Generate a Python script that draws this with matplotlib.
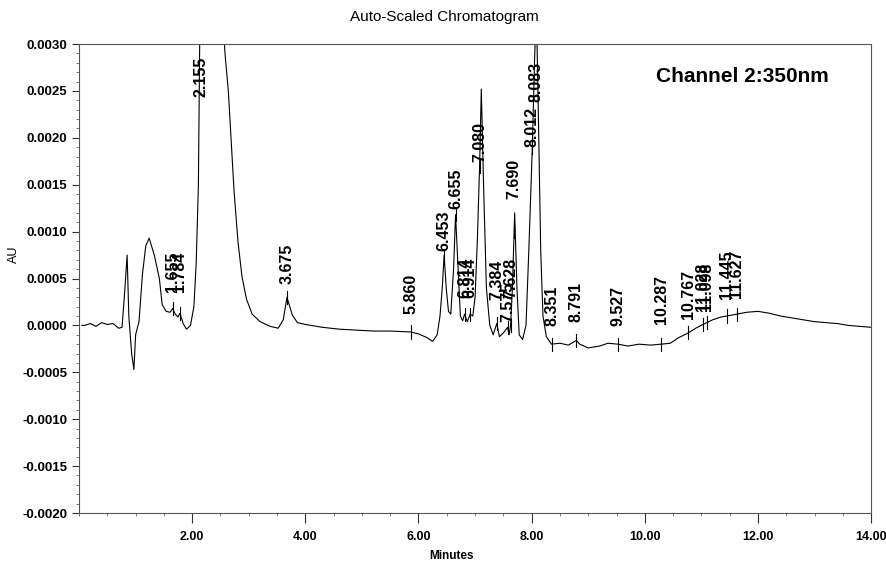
import matplotlib
matplotlib.use("Agg")
import matplotlib.pyplot as plt
import numpy as np
from matplotlib.ticker import MultipleLocator, FuncFormatter

# ---- data ----
time_min = [0.05, 0.10, 0.20, 0.30, 0.40, 0.50, 0.60, 0.70, 0.76, 0.80, 0.85, 0.88,
            0.93, 0.97, 1.00, 1.06, 1.12, 1.18, 1.24, 1.33, 1.42, 1.47, 1.54, 1.61,
            1.655, 1.70, 1.75, 1.784, 1.84, 1.90, 1.97, 2.03, 2.07, 2.11, 2.155, 2.30,
            2.45, 2.55, 2.58, 2.64, 2.69, 2.74, 2.81, 2.88, 2.96, 3.06, 3.20, 3.38,
            3.52, 3.61, 3.675, 3.77, 3.86, 4.00, 4.30, 4.60, 4.90, 5.20, 5.50, 5.86,
            6.00, 6.15, 6.25, 6.33, 6.38, 6.42, 6.453, 6.49, 6.53, 6.57, 6.62, 6.655,
            6.70, 6.74, 6.78, 6.814, 6.86, 6.914, 6.96, 7.00, 7.04, 7.08, 7.11, 7.15,
            7.20, 7.26, 7.32, 7.384, 7.43, 7.50, 7.575, 7.60, 7.628, 7.66, 7.70, 7.74,
            7.78, 7.84, 7.90, 7.95, 8.00, 8.012, 8.05, 8.083, 8.12, 8.16, 8.20, 8.26,
            8.351, 8.50, 8.65, 8.791, 8.85, 9.00, 9.20, 9.35, 9.527, 9.70, 9.90, 10.10,
            10.287, 10.45, 10.60, 10.767, 10.90, 11.028, 11.098, 11.20, 11.35, 11.445,
            11.627, 11.80, 12.00, 12.20, 12.40, 12.60, 12.80, 13.00, 13.20, 13.40, 13.60,
            13.80, 14.00]
absorbance = [0.00000, 0.00000, 0.00002, -0.00001, 0.00003, 0.00001, 0.00002, -0.00003,
              -0.00002, 0.00030, 0.00075, 0.00010, -0.00030, -0.00047, -0.00010, 0.00004,
              0.00054, 0.00085, 0.00093, 0.00075, 0.00050, 0.00022, 0.00015, 0.00014,
              0.00018, 0.00012, 0.00009, 0.00013, 0.00002, -0.00004, 0.00000, 0.00020,
              0.00065, 0.00150, 0.00450, 0.00400, 0.00600, 0.00320, 0.00290, 0.00249,
              0.00196, 0.00143, 0.00089, 0.00052, 0.00028, 0.00012, 0.00004, -0.00001,
              -0.00003, 0.00006, 0.00030, 0.00011, 0.00003, 0.00001, -0.00002, -0.00004,
              -0.00005, -0.00006, -0.00006, -0.00007, -0.00009, -0.00013, -0.00017, -0.00010,
              0.00010, 0.00040, 0.00075, 0.00040, 0.00015, 0.00012, 0.00060, 0.00118,
              0.00060, 0.00010, 0.00005, 0.00012, 0.00004, 0.00012, 0.00010, 0.00030,
              0.00090, 0.00170, 0.00252, 0.00150, 0.00040, 0.00000, -0.00010, 0.00002,
              -0.00012, -0.00008, -0.00002, -0.00010, 0.00000, 0.00040, 0.00120, 0.00040,
              -0.00010, -0.00015, 0.00000, 0.00080, 0.00170, 0.00190, 0.00280, 0.00340,
              0.00220, 0.00080, 0.00010, -0.00012, -0.00020, -0.00019, -0.00021, -0.00016,
              -0.00020, -0.00024, -0.00022, -0.00019, -0.00020, -0.00022, -0.00020, -0.00021,
              -0.00020, -0.00019, -0.00013, -0.00008, -0.00003, 0.00001, 0.00003, 0.00006,
              0.00009, 0.00010, 0.00012, 0.00014, 0.00015, 0.00013, 0.00010, 0.00008,
              0.00006, 0.00004, 0.00003, 0.00002, 0.00000, -0.00001, -0.00002]

peak_labels = ["1.655", "1.784", "2.155", "3.675", "5.860", "6.453", "6.655", "6.814",
               "6.914", "7.080", "7.384", "7.575", "7.628", "7.690", "8.012", "8.083",
               "8.351", "8.791", "9.527", "10.287", "10.767", "11.028", "11.098",
               "11.445", "11.627"]
# AU level of the bottom of each rotated label
label_base = [0.00036, 0.00036, 0.00244, 0.00044, 0.00012, 0.00079, 0.00124, 0.00029,
              0.00029, 0.00174, 0.00027, 0.00004, 0.00029, 0.00135, 0.00190, 0.00238,
              -0.00001, 0.00004, -0.00001, 0.00002, 0.00007, 0.00015, 0.00015,
              0.00028, 0.00029]

x_ticks = [2, 4, 6, 8, 10, 12, 14]
y_ticks = [-0.0020, -0.0015, -0.0010, -0.0005, 0.0000, 0.0005, 0.0010, 0.0015,
           0.0020, 0.0025, 0.0030]

# ---- figure ----
plt.rcParams['font.family'] = ['Liberation Sans', 'DejaVu Sans']
fig = plt.figure(figsize=(8.86, 5.65), dpi=100)
ax = fig.add_axes([0.0892, 0.0920, 0.894, 0.8301])

t = np.array(time_min)
a = np.array(absorbance)
ax.plot(t, a, color='black', lw=0.8)

ax.set_xlim(0, 14)
ax.set_ylim(-0.0020, 0.0030)

for lab, base in zip(peak_labels, label_base):
    pt = float(lab)
    yv = np.interp(pt, t, a)
    ax.plot([pt, pt], [yv - 0.00007, yv + 0.00007], color='black', lw=0.8)
    ax.text(pt, base, lab, rotation=90, ha='center', va='bottom',
            fontsize=11.5, fontweight='bold', color='black', clip_on=True)

ax.set_xticks(x_ticks)
ax.xaxis.set_major_formatter(FuncFormatter(lambda v, p: f"{v:.2f}"))
ax.xaxis.set_minor_locator(MultipleLocator(0.5))
ax.set_yticks(y_ticks)
ax.yaxis.set_major_formatter(FuncFormatter(lambda v, p: f"{v:.4f}"))
ax.yaxis.set_minor_locator(MultipleLocator(0.0001))

ax.tick_params(axis='both', which='major', direction='out', length=5, width=0.8,
               labelsize=9.5, colors='#333333', labelcolor='black')
ax.tick_params(axis='both', which='minor', direction='out', length=2, width=0.6,
               colors='#666666')
ax.tick_params(axis='x', which='major', length=7, pad=6, labelsize=9)
for lab in ax.get_xticklabels() + ax.get_yticklabels():
    lab.set_fontweight('bold')

for s in ax.spines.values():
    s.set_linewidth(0.8)
    s.set_color('#555555')

ax.text(0.838, 0.93, "Channel 2:350nm", transform=ax.transAxes, ha='center',
        va='center', fontsize=15, fontweight='bold')

fig.text(0.5017, 0.970, "Auto-Scaled Chromatogram", ha='center', va='center',
         fontsize=11)
fig.text(0.016, 0.55, "AU", rotation=90, ha='center', va='center', fontsize=9)
fig.text(0.51, 0.016, "Minutes", ha='center', va='center', fontsize=8.5,
         fontweight='bold')

fig.savefig("out.png", dpi=100)
